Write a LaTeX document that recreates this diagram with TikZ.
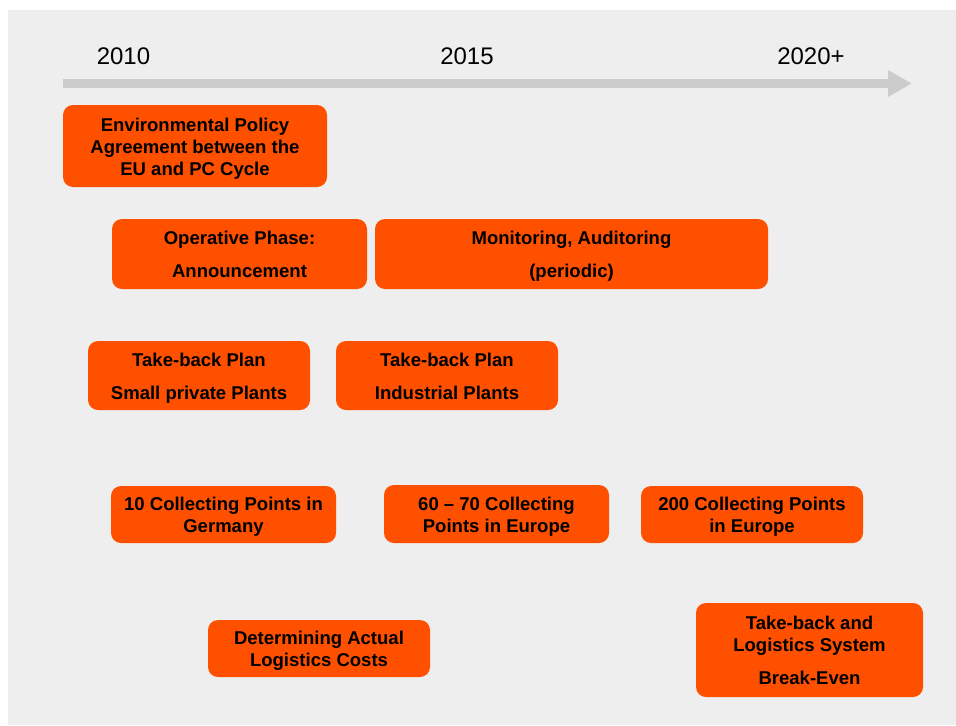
\documentclass[tikz,border=0pt]{standalone}
\usepackage{fontspec}
\setmainfont{Liberation Sans}
\usetikzlibrary{arrows.meta}
\definecolor{panelgray}{HTML}{EEEEEE}
\definecolor{bargray}{HTML}{CCCCCC}
\definecolor{boxorange}{HTML}{FF5000}
% fixed height above the first line and depth below the last line of a box
\newcommand\firststrut{\rule{0pt}{16pt}}
\newcommand\laststrut{\rule[-4.95pt]{0pt}{4.95pt}}
\begin{document}
\begin{tikzpicture}[x=0.75pt,y=-0.75pt,
  stagebox/.style={fill=boxorange, draw=none, rounded corners=7.5pt,
    align=center, inner sep=0pt,
    font=\fontsize{13.9}{16.5}\selectfont\bfseries},
  yearlabel/.style={anchor=base, inner sep=0pt, font=\fontsize{18}{21}\selectfont},
  timeline/.style={draw=bargray, line width=6.75pt,
    -{Triangle[length=18pt,width=18.75pt]}}]
\useasboundingbox (0,0) rectangle (956,725);
\fill[panelgray] (8,10) rectangle (956,725);

% time axis
\coordinate (tstart) at (63,83.5);
\coordinate (tend) at (912,83.5);
\draw[timeline] (tstart) -- (tend);
\node[yearlabel] (y2010) at (123.5,64) {2010};
\node[yearlabel] (y2015) at (467,64) {2015};
\node[yearlabel] (y2020) at (811,64) {2020+};

% stages
\node[stagebox, minimum width=198pt, minimum height=61.5pt] (env) at (195,146)
  {\firststrut Environmental Policy\\Agreement between the\\EU and PC Cycle\laststrut};
\node[stagebox, minimum width=191.25pt, minimum height=52.5pt] (oper) at (239.5,254)
  {\firststrut Operative Phase:\\[8.25pt]Announcement\laststrut};
\node[stagebox, minimum width=294.75pt, minimum height=52.5pt] (monit) at (571.5,254)
  {\firststrut Monitoring, Auditoring\\[8.25pt](periodic)\laststrut};
\node[stagebox, minimum width=166.5pt, minimum height=51.75pt] (tbsmall) at (199,375.5)
  {\firststrut Take-back Plan\\[8.25pt]Small private Plants\laststrut};
\node[stagebox, minimum width=166.5pt, minimum height=51.75pt] (tbind) at (447,375.5)
  {\firststrut Take-back Plan\\[8.25pt]Industrial Plants\laststrut};
\node[stagebox, minimum width=168.75pt, minimum height=42.75pt] (cp10) at (223.5,514.5)
  {\firststrut 10 Collecting Points in\\Germany\laststrut};
\node[stagebox, minimum width=168.75pt, minimum height=43.5pt] (cp60) at (496.5,514)
  {\firststrut 60 – 70 Collecting\\Points in Europe\laststrut};
\node[stagebox, minimum width=166.5pt, minimum height=42.75pt] (cp200) at (752,514.5)
  {\firststrut 200 Collecting Points\\in Europe\laststrut};
\node[stagebox, minimum width=166.5pt, minimum height=42.75pt] (costs) at (319,648.5)
  {\firststrut Determining Actual\\Logistics Costs\laststrut};
\node[stagebox, minimum width=170.25pt, minimum height=70.5pt] (breakeven) at (809.5,650)
  {\firststrut Take-back and\\Logistics System\\[8.25pt]Break-Even\laststrut};
\end{tikzpicture}
\end{document}
